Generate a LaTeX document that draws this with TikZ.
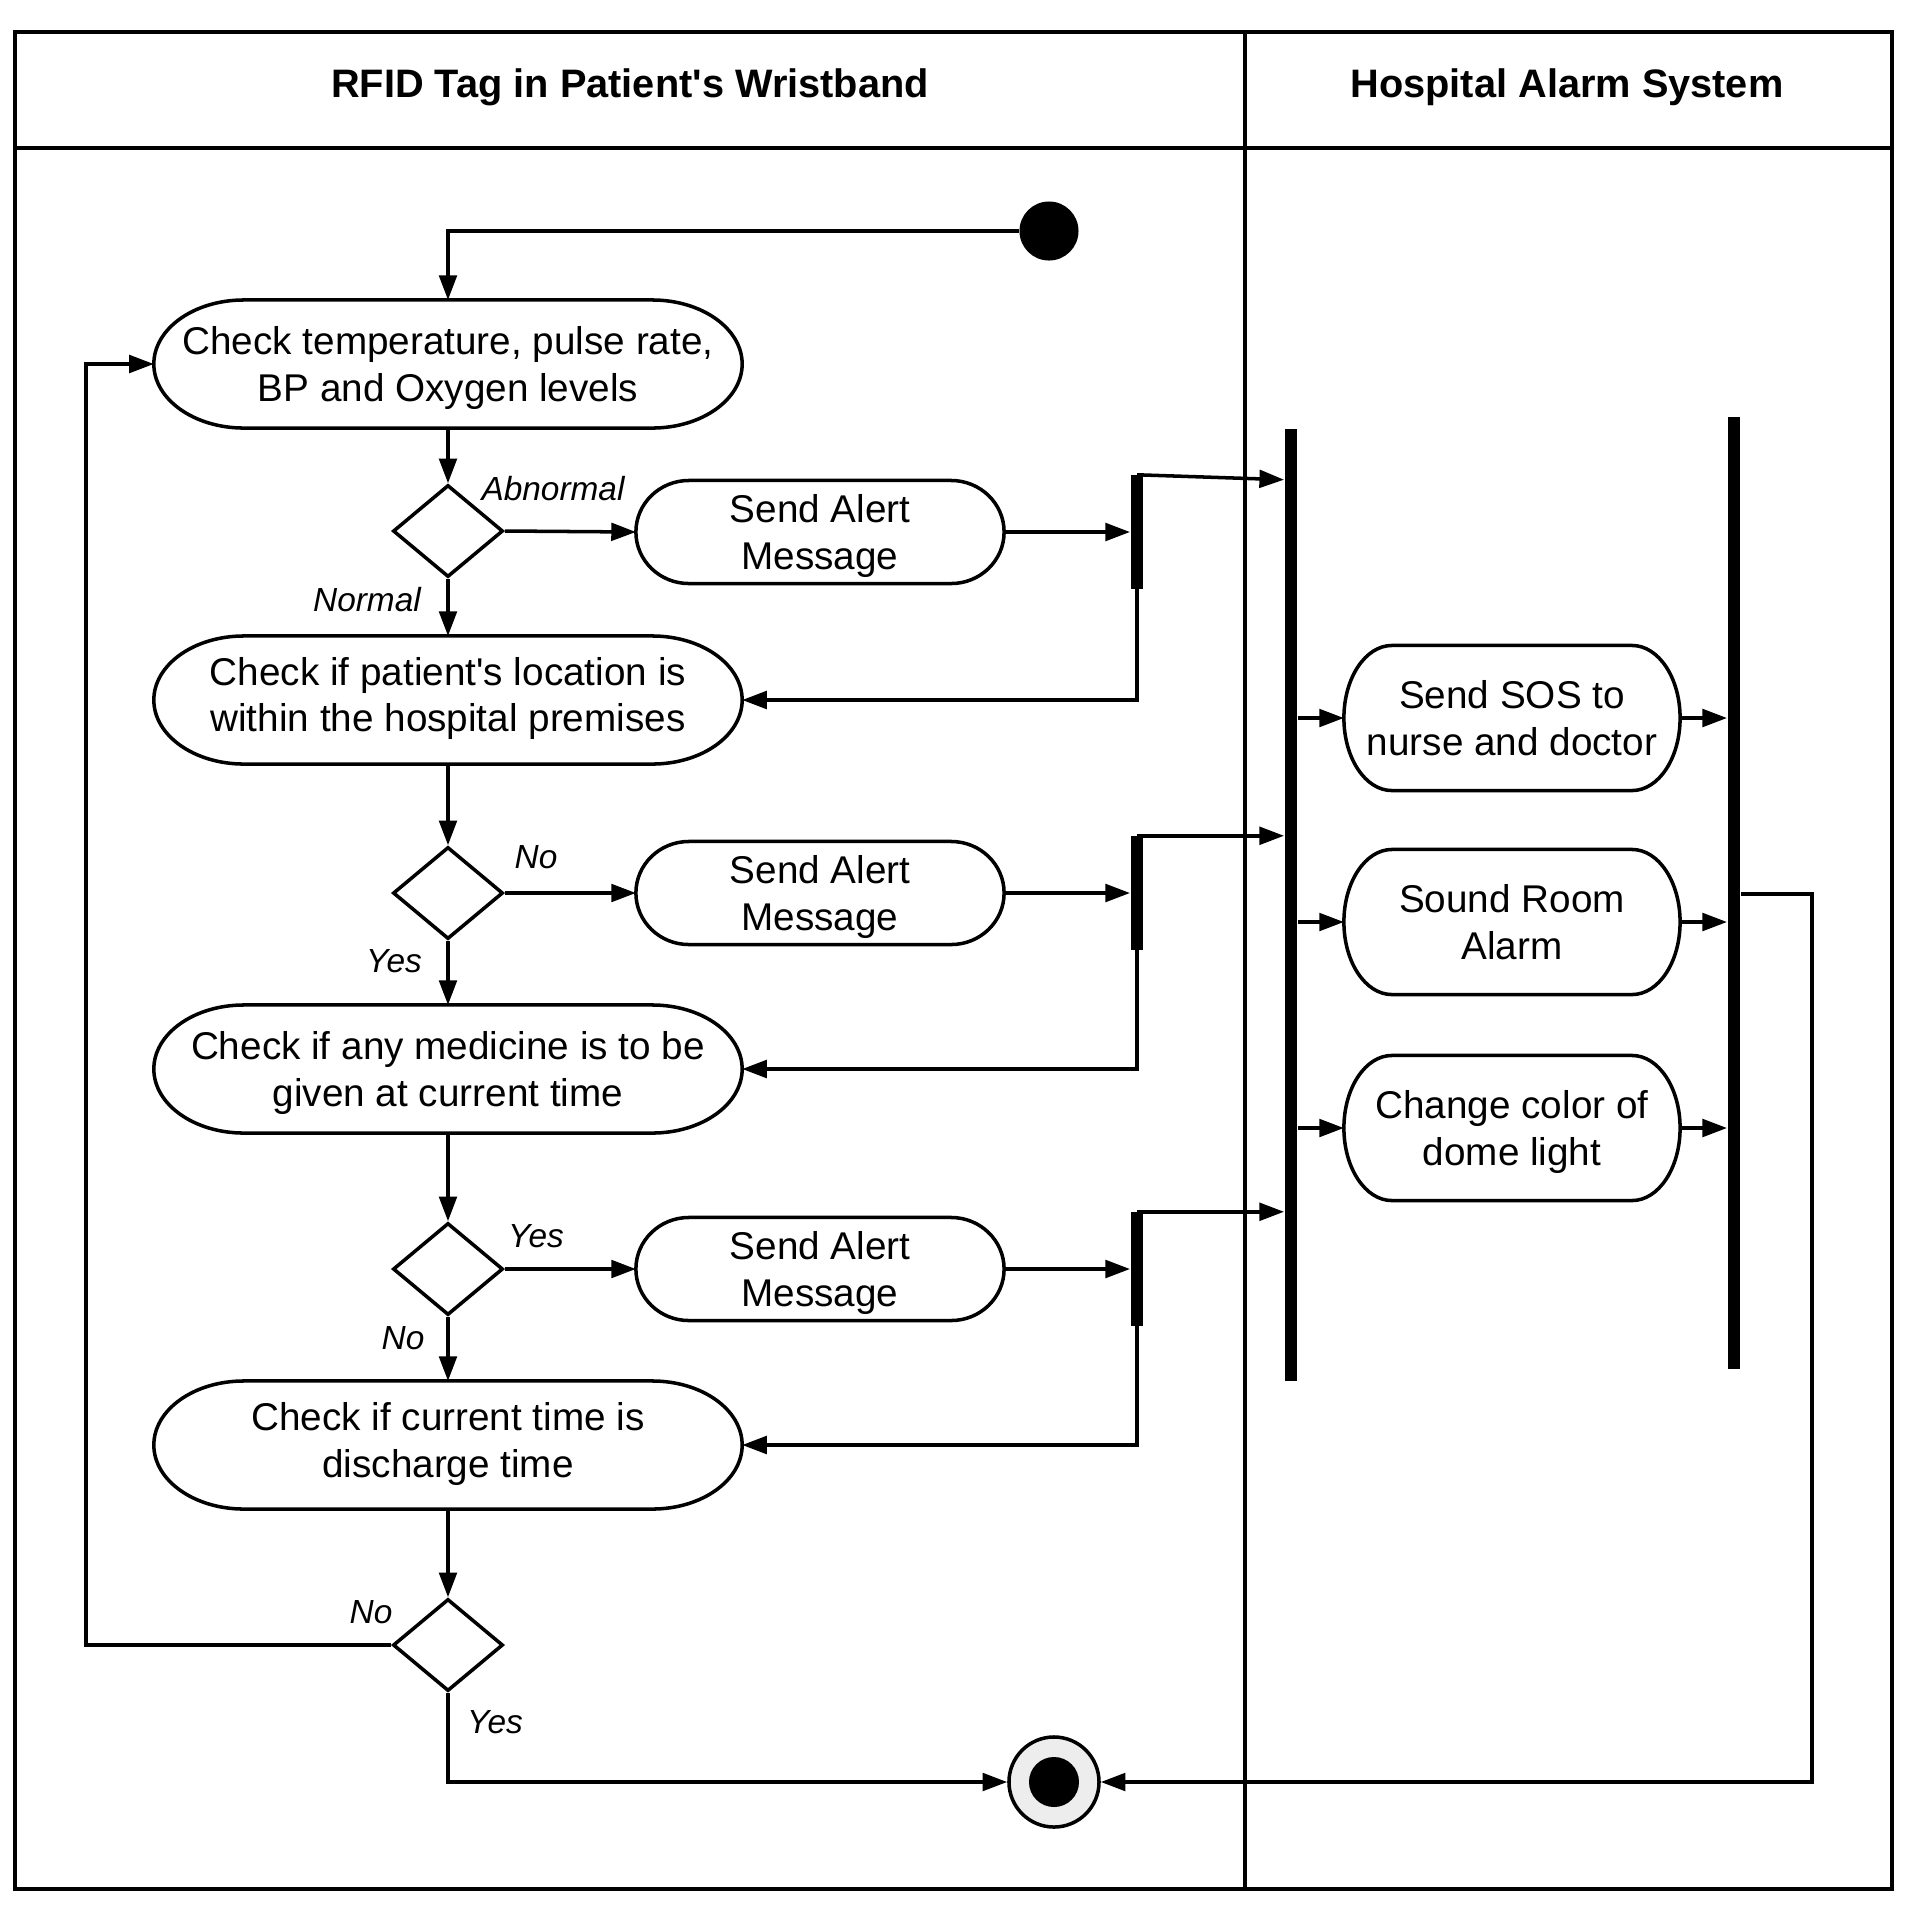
\documentclass[tikz,border=0pt]{standalone}
\usepackage{fontspec}
\setmainfont{Liberation Sans}[Ligatures=TeXOff]
\usetikzlibrary{shapes.geometric,arrows.meta}

\tikzset{
  action/.style={rectangle, inner sep=0pt, outer sep=0pt, align=center, text depth=0pt,
    font=\fontsize{11}{13.2}\selectfont},
  border/.style={line width=1pt},
  decision/.style={diamond, draw, line width=1pt, inner sep=0pt,
    minimum width=1.1cm, minimum height=0.92cm},
  bar/.style={rectangle, fill=black, inner sep=0pt, minimum width=0.125cm},
  flow/.style={line width=1pt, -{Triangle[length=7pt,width=5pt]}},
  guard/.style={font=\fontsize{9.5}{11}\selectfont\itshape},
  lane/.style={text depth=0pt, font=\fontsize{11.3}{13}\selectfont\bfseries},
}

% outline of an action node: straight top and bottom, half-ellipse ends
\newcommand{\actionborder}[3]{%
  \draw[border] ([xshift=#2]#1.north west) -- ([xshift=-#2]#1.north east)
    arc[start angle=90, end angle=-90, x radius=#2, y radius=#3]
    -- ([xshift=#2]#1.south west)
    arc[start angle=270, end angle=90, x radius=#2, y radius=#3] -- cycle;
}

\begin{document}
\begin{tikzpicture}[x=0.01cm,y=-0.01cm]
\useasboundingbox (0,0) rectangle (1920,1920);
\fill[white] (0,0) rectangle (1920,1920);

% swimlanes
\draw[line width=1pt] (15,32) rectangle (1892,1889);
\draw[line width=1pt] (15,148) -- (1892,148);
\draw[line width=0.9pt] (1245,32) -- (1245,1889);
\node[lane] (laneTag) at (630,83) {RFID Tag in Patient's Wristband};
\node[lane] (laneAlarm) at (1567,83) {Hospital Alarm System};

% wristband lane
\node[circle, fill=black, inner sep=0pt, minimum size=0.59cm] (start) at (1049,231) {};
\node[action, minimum width=5.88cm, minimum height=1.28cm] (vitals) at (448,364)
  {Check temperature, pulse rate,\\BP and Oxygen levels};
\node[decision] (d1) at (448,531) {};
\node[action, minimum width=3.68cm, minimum height=1.03cm] (alert1) at (820,532)
  {Send Alert\\Message};
\node[bar, minimum height=1.13cm] (bar1) at (1137,532) {};

\node[action, text depth=3.2pt, minimum width=5.88cm, minimum height=1.28cm] (location) at (448,700)
  {Check if patient's location is\\within the hospital premises};
\node[decision] (d2) at (448,893) {};
\node[action, minimum width=3.68cm, minimum height=1.03cm] (alert2) at (820,893)
  {Send Alert\\Message};
\node[bar, minimum height=1.13cm] (bar2) at (1137,893) {};

\node[action, minimum width=5.88cm, minimum height=1.28cm] (medicine) at (448,1069)
  {Check if any medicine is to be\\given at current time};
\node[decision] (d3) at (448,1269) {};
\node[action, minimum width=3.68cm, minimum height=1.03cm] (alert3) at (820,1269)
  {Send Alert\\Message};
\node[bar, minimum height=1.13cm] (bar3) at (1137,1269) {};

\node[action, text depth=2.8pt, minimum width=5.88cm, minimum height=1.28cm] (discharge) at (448,1445)
  {Check if current time is\\discharge time};
\node[decision] (d4) at (448,1645) {};

\node[circle, draw, line width=1pt, fill=gray!14, inner sep=0pt, minimum size=0.9cm] (stop) at (1054,1782) {};
\node[circle, fill=black, inner sep=0pt, minimum size=0.5cm] (stopdot) at (stop) {};

% guards
\node[guard] (gAbn) at (553,489) {Abnormal};
\node[guard] (gNorm) at (367,600) {Normal};
\node[guard] (gNo1) at (536,857) {No};
\node[guard] (gYes1) at (394,961) {Yes};
\node[guard] (gYes2) at (536,1236) {Yes};
\node[guard] (gNo2) at (403,1338) {No};
\node[guard] (gNo3) at (371,1612) {No};
\node[guard] (gYes3) at (495,1722) {Yes};

% alarm lane
\node[bar, minimum height=9.52cm] (fork) at (1291,905) {};
\node[bar, minimum height=9.52cm] (join) at (1734,893) {};
\node[action, minimum width=3.36cm, minimum height=1.45cm] (sos) at (1512,718)
  {Send SOS to\\nurse and doctor};
\node[action, minimum width=3.36cm, minimum height=1.45cm] (room) at (1512,922)
  {Sound Room\\Alarm};
\node[action, minimum width=3.36cm, minimum height=1.45cm] (dome) at (1512,1128)
  {Change color of\\dome light};

\foreach \n in {vitals,location,medicine,discharge} {\actionborder{\n}{0.9cm}{0.64cm}}
\foreach \n in {alert1,alert2,alert3} {\actionborder{\n}{0.53cm}{0.515cm}}
\foreach \n in {sos,room,dome} {\actionborder{\n}{0.48cm}{0.725cm}}

\coordinate (loop) at (86,1645);
\coordinate (out) at (1812,894);

% flows
\draw[flow] (start.west) -| (vitals.north);
\draw[flow] (vitals.south) -- (d1.north);
\draw[flow] (d1.east) -- (alert1.west);
\draw[flow] (d1.south) -- (location.north);
\draw[flow] (alert1.east) -- (bar1.west);
\draw[flow] (bar1.north) -- ([yshift=-1.4pt]fork.west |- bar1.north);
\draw[flow] (bar1.south) |- (location.east);

\draw[flow] (location.south) -- (d2.north);
\draw[flow] (d2.east) -- (alert2.west);
\draw[flow] (d2.south) -- (medicine.north);
\draw[flow] (alert2.east) -- (bar2.west);
\draw[flow] (bar2.north) -- (fork.west |- bar2.north);
\draw[flow] (bar2.south) |- (medicine.east);

\draw[flow] (medicine.south) -- (d3.north);
\draw[flow] (d3.east) -- (alert3.west);
\draw[flow] (d3.south) -- (discharge.north);
\draw[flow] (alert3.east) -- (bar3.west);
\draw[flow] (bar3.north) -- (fork.west |- bar3.north);
\draw[flow] (bar3.south) |- (discharge.east);

\draw[flow] (discharge.south) -- (d4.north);
\draw[flow] (d4.west) -- (loop) |- (vitals.west);
\draw[flow] (d4.south) |- (stop.west);

\draw[flow] (fork.east |- sos.west) -- (sos.west);
\draw[flow] (fork.east |- room.west) -- (room.west);
\draw[flow] (fork.east |- dome.west) -- (dome.west);
\draw[flow] (sos.east) -- (join.west |- sos.east);
\draw[flow] (room.east) -- (join.west |- room.east);
\draw[flow] (dome.east) -- (join.west |- dome.east);
\draw[flow] (join.east |- out) -- (out) |- (stop.east);
\end{tikzpicture}
\end{document}
